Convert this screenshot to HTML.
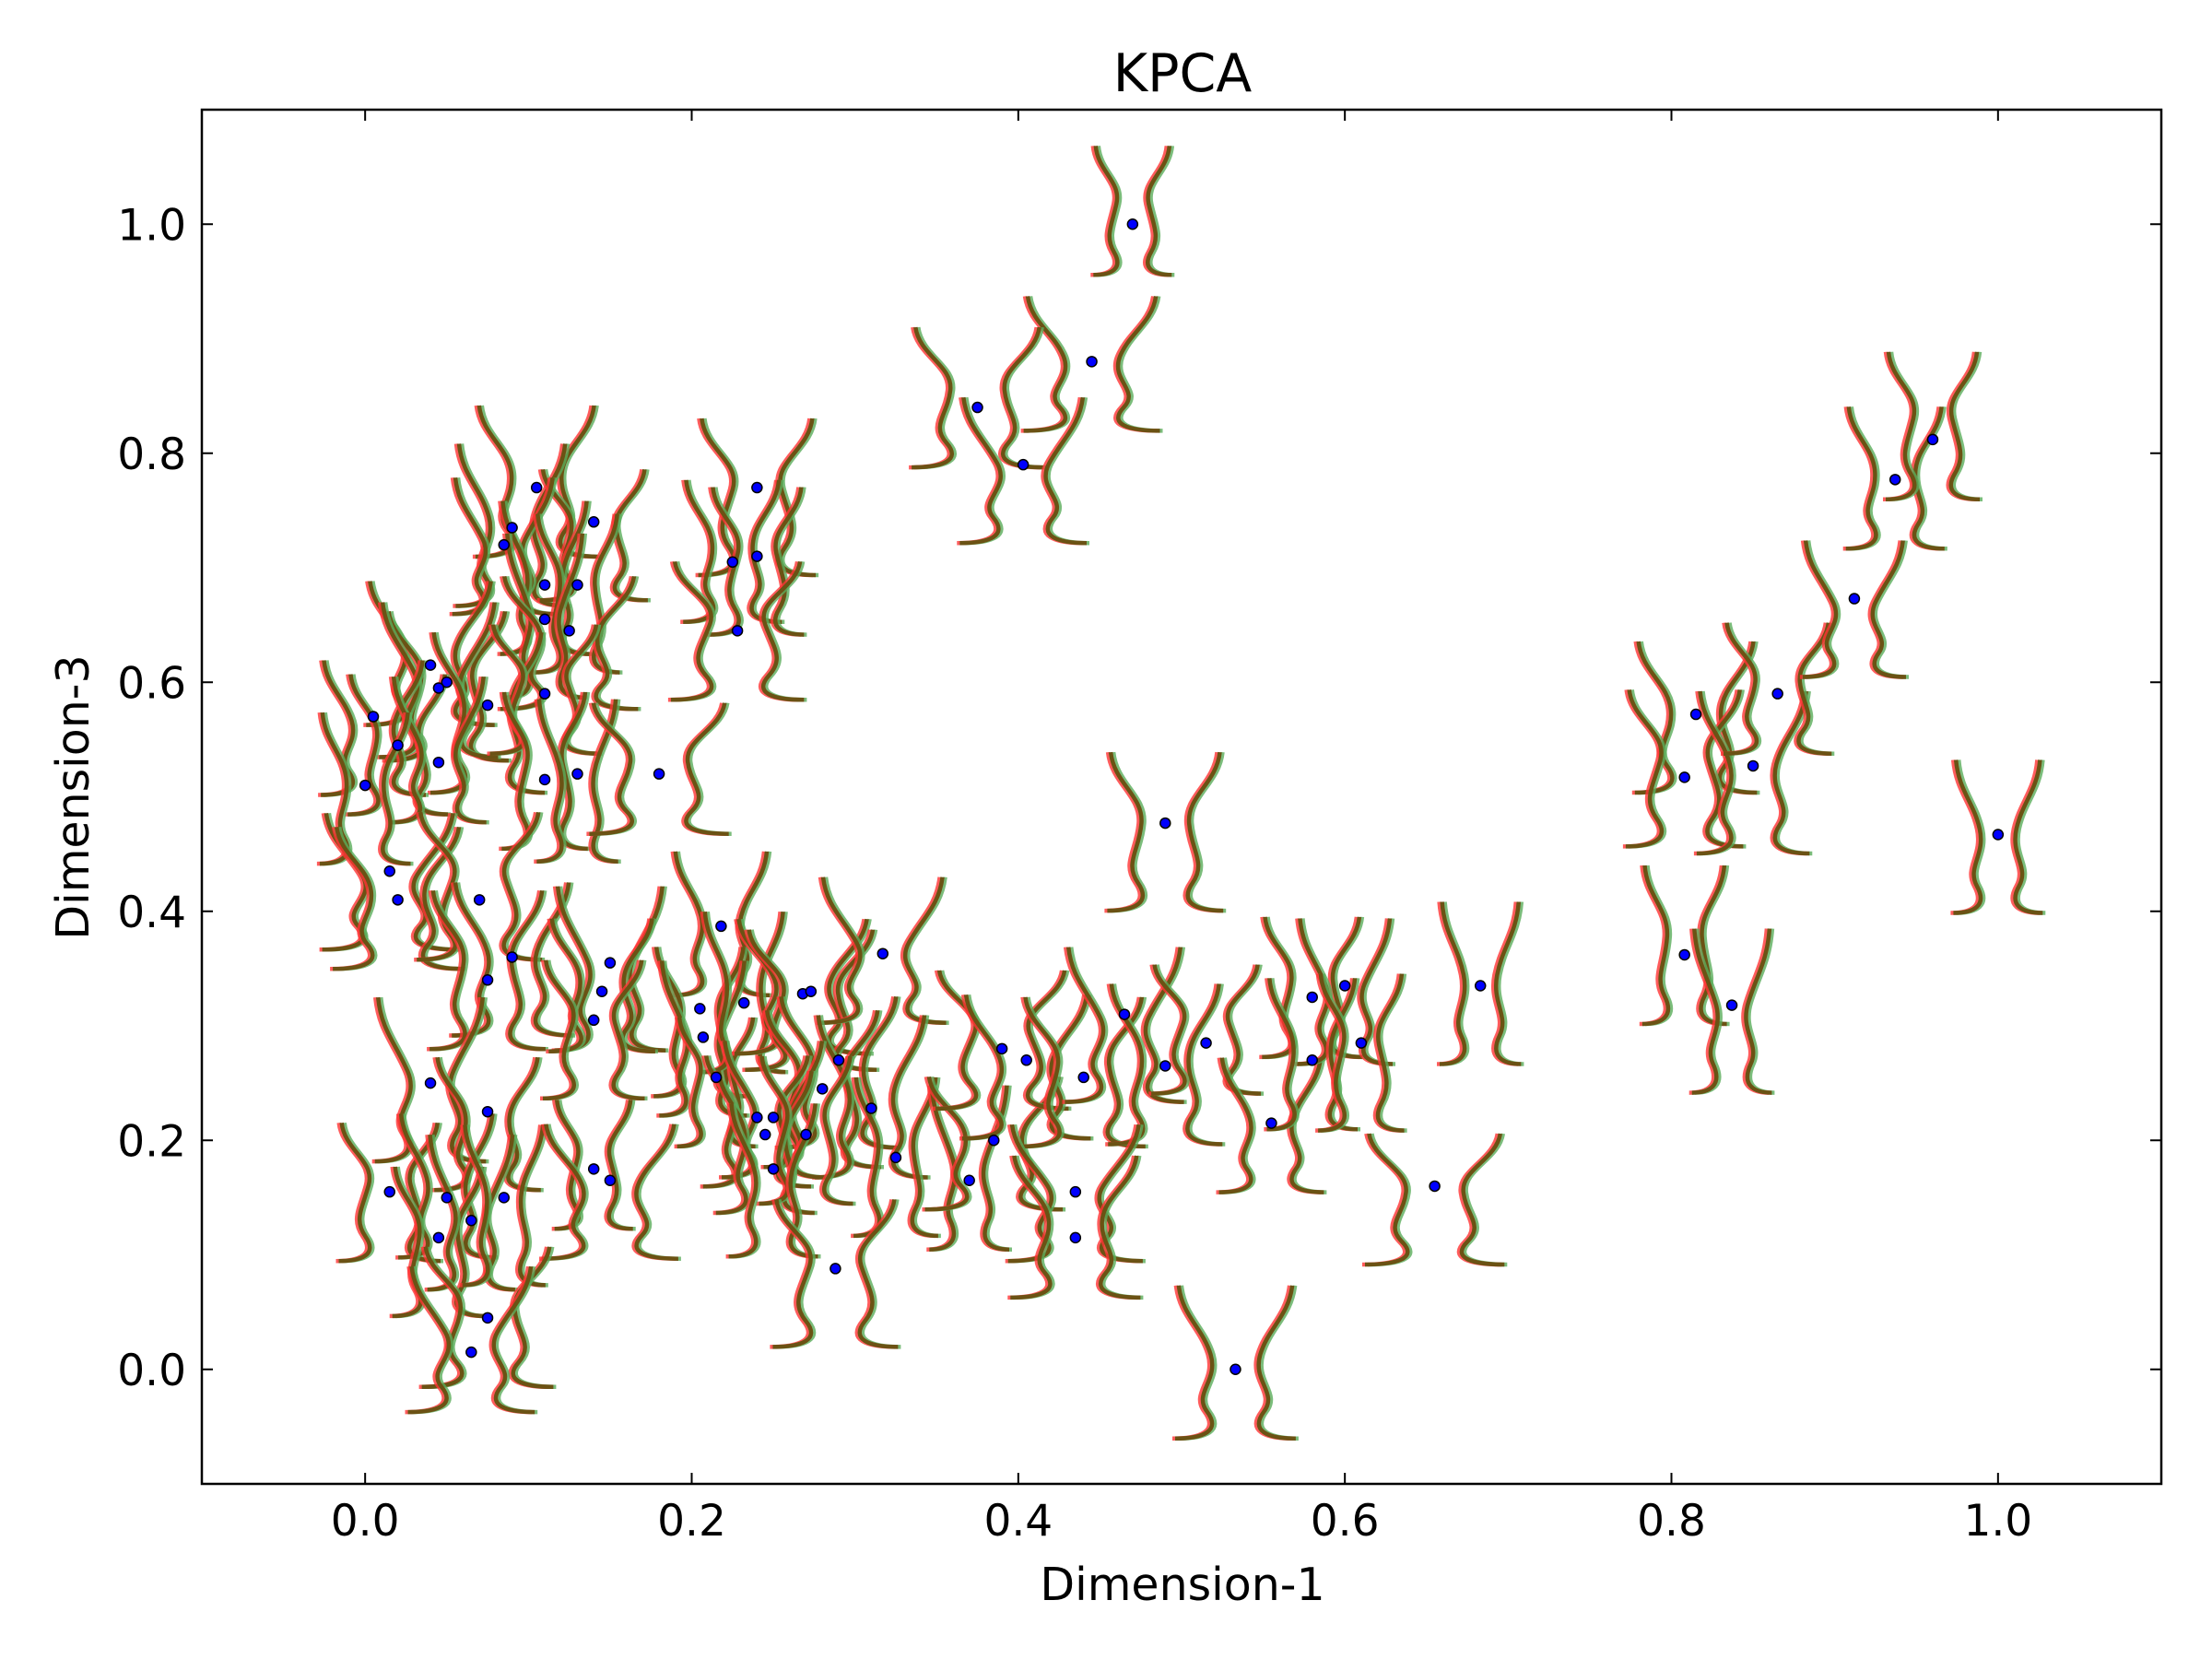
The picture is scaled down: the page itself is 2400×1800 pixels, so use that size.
<!DOCTYPE html>
<html><head><meta charset="utf-8"><style>
body{margin:0;background:#fff}
svg{display:block;font-family:"DejaVu Sans","Liberation Sans",sans-serif}
</style></head><body>
<svg id="chart" width="2400" height="1800" viewBox="0 0 2400 1800">
<rect width="2400" height="1800" fill="#fff"/>
<defs><clipPath id="clip"><rect x="219" y="119" width="2126" height="1491"/></clipPath></defs>
<text x="1283" y="99" font-size="57" text-anchor="middle">KPCA</text>
<g id="glyphs" clip-path="url(#clip)"></g>
<g id="points"></g>
<rect x="219" y="119" width="2126" height="1491" fill="none" stroke="#000" stroke-width="2.5"/>
<g id="axes"></g>
<text x="1283" y="1736" font-size="49" text-anchor="middle">Dimension-1</text>
<text x="96" y="865" font-size="49" text-anchor="middle" transform="rotate(-90 96 865)">Dimension-3</text>
</svg>
<script>
const xVals=[0.47,0.445,0.375,0.403,0.105,0.24,0.09,0.14,0.085,0.225,0.24,0.11,0.13,0.11,0.125,0.228,0.04,0.05,0.045,0.075,0.11,0.005,0.02,0.045,0.0,0.11,0.13,0.18,0.015,0.02,0.07,0.09,0.075,0.15,0.145,0.14,0.218,0.205,0.207,0.232,0.215,0.268,0.273,0.317,0.29,0.28,0.31,0.24,0.25,0.245,0.27,0.25,0.325,0.37,0.385,0.39,0.405,0.44,0.465,0.49,0.515,0.555,0.58,0.6,0.58,0.61,0.683,0.655,0.435,0.435,0.288,0.533,0.49,0.04,0.075,0.015,0.05,0.045,0.065,0.085,0.14,0.15,0.075,0.065,0.815,0.808,0.85,0.865,0.912,0.937,0.96,1.0,0.808,0.837];
const yVals=[1.0,0.88,0.84,0.79,0.77,0.77,0.735,0.74,0.72,0.705,0.71,0.685,0.685,0.655,0.645,0.645,0.615,0.6,0.595,0.58,0.59,0.57,0.545,0.53,0.51,0.515,0.52,0.52,0.435,0.41,0.41,0.36,0.34,0.355,0.33,0.305,0.387,0.315,0.29,0.32,0.255,0.328,0.33,0.363,0.27,0.245,0.228,0.22,0.22,0.205,0.205,0.175,0.185,0.165,0.2,0.28,0.27,0.255,0.31,0.265,0.285,0.215,0.325,0.335,0.27,0.285,0.335,0.16,0.155,0.115,0.088,0.0,0.477,0.25,0.225,0.155,0.15,0.115,0.13,0.15,0.175,0.165,0.045,0.015,0.572,0.517,0.527,0.59,0.673,0.777,0.812,0.467,0.362,0.318];
const xTicks=[0.0,0.2,0.4,0.6,0.8,1.0];
const yTicks=[0.0,0.2,0.4,0.6,0.8,1.0];
const X0=219,X1=2345,Y0=1610,Y1=119,DMIN=-0.1,DMAX=1.1;
const sx=v=>X0+(v-DMIN)/(DMAX-DMIN)*(X1-X0);
const sy=v=>Y0-(v-DMIN)/(DMAX-DMIN)*(Y0-Y1);
const NS='http://www.w3.org/2000/svg';
const gG=document.getElementById('glyphs'),gP=document.getElementById('points'),gA=document.getElementById('axes');
function mk(t,a,p){const e=document.createElementNS(NS,t);for(const k in a)e.setAttribute(k,a[k]);p.appendChild(e);return e;}
function side(cx,cy,s,w,h,k){
  const f=(dx,dy)=>(cx+s*dx).toFixed(1)+','+(cy+dy).toFixed(1);
  return 'M'+f(w*0.8,-h)+' C'+f(w*0.75,-h*0.6)+' '+f(w*0.3*k,-h*0.45)+' '+f(w*0.35,-h*0.1)+' S'+f(w*0.6,h*0.4)+' '+f(w*0.4,h*0.65)+' S'+f(w*0.45,h)+' '+f(w*0.85,h);
}
xVals.forEach((xv,i)=>{
  const cx=sx(xv),cy=sy(yVals[i])+((i*17)%30)-15;
  const w=50+((i*37)%40),h=70+((i*23)%20),k=0.8+((i*13)%5)*0.25;
  const cols=[['#5aad5a',3,0.8],['#ff3333',-3,0.8],['#6b5214',0,1]];
  cols.forEach(([c,o,op])=>{
    [-1,1].forEach(s=>{
      const p=mk('path',{d:side(cx+o,cy,s,w,h,k),fill:'none',stroke:c,'stroke-width':4.5,'stroke-opacity':op},gG);
      
      
    });
  });
});
xVals.forEach((xv,i)=>{
  const c=mk('circle',{cx:sx(xv),cy:sy(yVals[i]),r:5.5,fill:'#0000ff',stroke:'#000','stroke-width':1.5},gP);
  
  
});
xTicks.forEach(t=>{
  const x=sx(t);
  const a=mk('line',{x1:x,y1:Y0,x2:x,y2:Y0-12,stroke:'#000','stroke-width':2},gA);
  
  
  const b=mk('line',{x1:x,y1:Y1,x2:x,y2:Y1+12,stroke:'#000','stroke-width':2},gA);
  
  
  const l=mk('text',{x:x,y:1666,'font-size':47,'text-anchor':'middle'},gA);
  l.textContent=t.toFixed(1);
  
  
});
yTicks.forEach(t=>{
  const y=sy(t);
  const a=mk('line',{x1:X0,y1:y,x2:X0+12,y2:y,stroke:'#000','stroke-width':2},gA);
  
  
  const b=mk('line',{x1:X1,y1:y,x2:X1-12,y2:y,stroke:'#000','stroke-width':2},gA);
  
  
  const l=mk('text',{x:202,y:y+17,'font-size':47,'text-anchor':'end'},gA);
  l.textContent=t.toFixed(1);
  
  
});
</script>
</body></html>
